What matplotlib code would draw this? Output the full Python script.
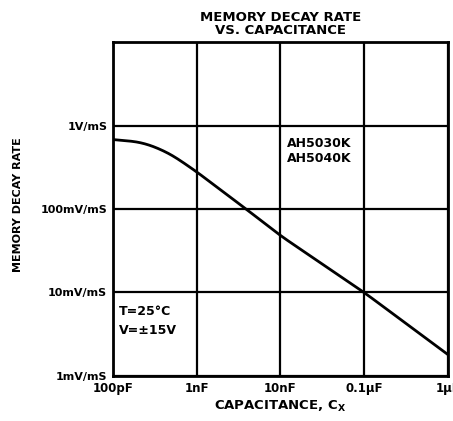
import matplotlib
matplotlib.use('Agg')
import matplotlib.pyplot as plt
import numpy as np

# curve: capacitance (F) vs decay rate (V/mS)
cap = [100e-12, 200e-12, 300e-12, 500e-12, 1e-9, 2e-9, 4e-9, 10e-9, 100e-9, 1e-6]
rate = [0.68, 0.64, 0.57, 0.45, 0.28, 0.165, 0.098, 0.048, 0.010, 0.0018]

xticks = [100e-12, 1e-9, 10e-9, 100e-9, 1e-6]
xlabels = ['100pF', '1nF', '10nF', '0.1µF', '1µF']
yticks = [1e-3, 1e-2, 1e-1, 1]
ylabels = ['1mV/mS', '10mV/mS', '100mV/mS', '1V/mS']

plt.rcParams['font.family'] = 'DejaVu Sans'
plt.rcParams['font.weight'] = 'bold'
plt.rcParams['axes.titleweight'] = 'bold'
plt.rcParams['axes.labelweight'] = 'bold'

fig = plt.figure(figsize=(4.53, 4.21), dpi=100)
ax = fig.add_axes([0.249, 0.107, 0.740, 0.793])

# smooth the read points in log space
lx = np.log10(cap)
ly = np.log10(rate)
xs = np.linspace(lx[0], lx[-1], 400)
ys = np.interp(xs, lx, ly)
n = 41
k = np.exp(-0.5 * (np.arange(n) - n // 2) ** 2 / (n / 5) ** 2)
k /= k.sum()
pad = n // 2
ext = np.concatenate([2 * ys[0] - ys[pad:0:-1], ys, 2 * ys[-1] - ys[-2:-pad - 2:-1]])
ys_s = np.convolve(ext, k, mode='valid')
ax.plot(10 ** xs, 10 ** ys_s, color='black', lw=2)

ax.set_xscale('log')
ax.set_yscale('log')
ax.set_xlim(100e-12, 1e-6)
ax.set_ylim(1e-3, 10)
ax.set_xticks(xticks)
ax.set_xticklabels(xlabels, fontsize=8.5)
ax.set_yticks(yticks)
ax.set_yticklabels(ylabels, fontsize=8)
ax.minorticks_off()
ax.tick_params(length=0, pad=4)
for t in xticks:
    ax.axvline(t, color='black', lw=1.6)
for t in yticks:
    ax.axhline(t, color='black', lw=1.6)
for s in ax.spines.values():
    s.set_linewidth(2)

ax.set_xlabel('CAPACITANCE, C$_\\mathregular{X}$', fontsize=9.5, labelpad=3)
fig.text(0.04, 0.515, 'MEMORY DECAY RATE', rotation=90, fontsize=8, va='center', ha='center')
ax.set_title('MEMORY DECAY RATE\nVS. CAPACITANCE', fontsize=9.5, linespacing=1.0, pad=6)

ax.text(12e-9, 0.5, 'AH5030K\nAH5040K', fontsize=9, va='center', linespacing=1.2)
ax.text(118e-12, 0.0045, 'T=25°C\nV=±15V', fontsize=9, va='center', linespacing=1.6)

fig.savefig('out.png', dpi=100)
